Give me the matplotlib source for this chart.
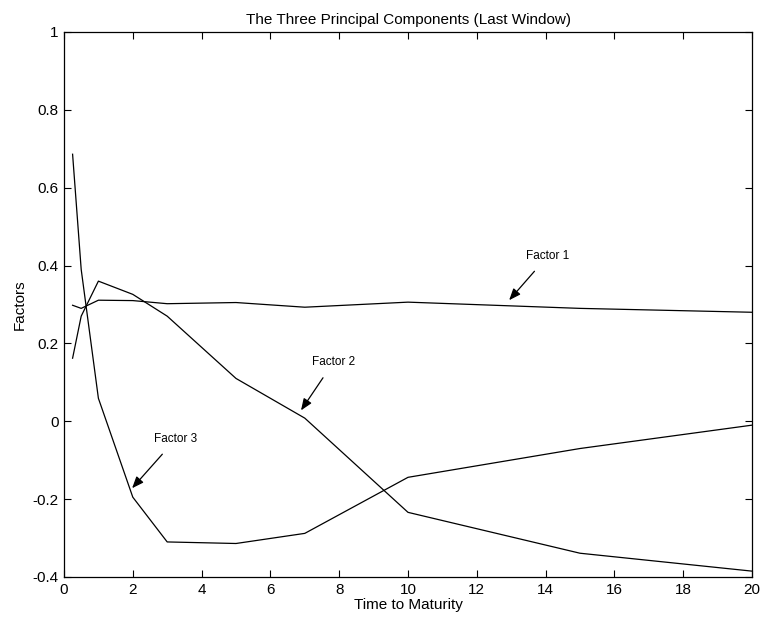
import matplotlib
matplotlib.use("Agg")
import matplotlib.pyplot as plt


# maturities (years) and the three factor loadings
maturities = [0.25, 0.5, 1, 2, 3, 5, 7, 10, 15, 20]
factor1 = [0.298, 0.29, 0.311, 0.31, 0.302, 0.305, 0.293, 0.306, 0.29, 0.28]
factor2 = [0.162, 0.27, 0.36, 0.326, 0.27, 0.11, 0.008, -0.234, -0.339, -0.385]
factor3 = [0.686, 0.39, 0.059, -0.195, -0.31, -0.314, -0.288, -0.144, -0.07, -0.01]

x_ticks = list(range(0, 21, 2))
y_ticks = [-0.4, -0.2, 0, 0.2, 0.4, 0.6, 0.8, 1]
y_tick_labels = ["-0.4", "-0.2", "0", "0.2", "0.4", "0.6", "0.8", "1"]

# label text, text position, arrow head position
etykiety = [
    ("Factor 1", (13.43, 0.424), (12.94, 0.311)),
    ("Factor 2", (7.21, 0.152), (6.89, 0.028)),
    ("Factor 3", (2.62, -0.046), (1.98, -0.172)),
]

plt.rcParams["font.family"] = ["Liberation Sans", "DejaVu Sans"]

fig = plt.figure(figsize=(7.6, 6.2), dpi=100)
ax = fig.add_axes([0.0842, 0.0694, 0.9053, 0.879])

for seria in (factor1, factor2, factor3):
    ax.plot(maturities, seria, color="black", lw=0.9)

for tekst, xy_txt, xy_head in etykiety:
    ax.annotate(tekst, xy=xy_head, xytext=xy_txt, fontsize=8.5,
                ha="left", va="center",
                arrowprops=dict(arrowstyle="-|>,head_length=0.5,head_width=0.2",
                                color="black", lw=0.9,
                                mutation_scale=14, shrinkA=6, shrinkB=0))

ax.set_xlim(0, 20)
ax.set_ylim(-0.4, 1)
ax.set_xticks(x_ticks)
ax.set_yticks(y_ticks)
ax.set_yticklabels(y_tick_labels)
ax.tick_params(direction="in", top=True, right=True, length=5, width=0.8,
               labelsize=11, pad=4)
for s in ax.spines.values():
    s.set_linewidth(0.9)

ax.set_title("The Three Principal Components (Last Window)", fontsize=11, pad=6)
ax.set_xlabel("Time to Maturity", fontsize=11, labelpad=1)
ax.set_ylabel("Factors", fontsize=11, labelpad=4)

fig.savefig("out.png", dpi=100)
plt.close(fig)
